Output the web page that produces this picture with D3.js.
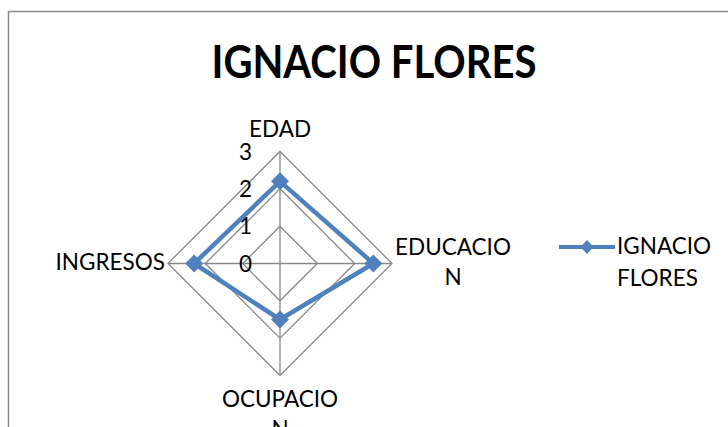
<!DOCTYPE html>
<meta charset="utf-8">
<head>
    <title>IGNACIO FLORES radar</title>
    <script src="https://cdn.jsdelivr.net/npm/d3@7"></script>
</head>

<style>
body { margin: 0; background: #fff; }
svg { display: block; font-family: Lato, "Open Sans", sans-serif; }
</style>

<body>

<svg></svg>

<script>

// data
let categories = ["EDAD", "EDUCACION", "OCUPACION", "INGRESOS"];
let labelLines = [["EDAD"], ["EDUCACIO", "N"], ["OCUPACIO", "N"], ["INGRESOS"]];
let values = [2.2, 2.5, 1.5, 2.3];
let ticks = [0, 1, 2, 3];
let seriesName = ["IGNACIO", "FLORES"];
let title = "IGNACIO FLORES";

let width = 728, height = 427;
let cx = 280, cy = 263.5, R = 112;
let blue = "#4F81BD";
let fs = 22.5;

let svg = d3.select("svg")
    .attr("width", width)
    .attr("height", height);

// chart area border (runs off right and bottom)
svg.append("path")
    .attr("d", "M8.5," + (height + 5) + "V11.5H" + (width + 5))
    .attr("fill", "none")
    .attr("stroke", "#8a8a8a")
    .attr("stroke-width", 1.5);

svg.append("text")
    .attr("x", 374)
    .attr("y", 78)
    .attr("text-anchor", "middle")
    .attr("font-weight", "bold")
    .attr("font-size", 45)
    .attr("textLength", 325)
    .attr("lengthAdjust", "spacingAndGlyphs")
    .attr("fill", "#000")
    .text(title);

// scales
let r = d3.scaleLinear().domain([0, 3]).range([0, R]);
let angle = d3.scaleBand().domain(categories).range([0, 2 * Math.PI]);

function pt(cat, v) {
  let a = angle(cat);
  return [cx + r(v) * Math.sin(a), cy - r(v) * Math.cos(a)];
}

let g = svg.append("g");

// rings
ticks.filter(t => t > 0).forEach(t => {
  g.append("path")
    .attr("d", d3.line()(categories.map(c => pt(c, t))) + "Z")
    .attr("fill", "none")
    .attr("stroke", "#888")
    .attr("stroke-width", 1.3);
});

// spokes
categories.forEach(c => {
  let p = pt(c, 3);
  g.append("line")
    .attr("x1", cx).attr("y1", cy)
    .attr("x2", p[0]).attr("y2", p[1])
    .attr("stroke", "#888")
    .attr("stroke-width", 1.3);
});

// tick labels
g.selectAll(".tick")
  .data(ticks)
  .enter()
  .append("text")
  .attr("x", cx - 28)
  .attr("y", d => cy - r(d) + 8)
  .attr("text-anchor", "end")
  .attr("font-size", fs)
  .text(d => d);

// category labels
let labelPos = [
  {dx: 0, dy: -14.5, anchor: "middle"},
  {dx: 61, dy: -8.5, anchor: "middle"},
  {dx: 0, dy: 31.5, anchor: "middle"},
  {dx: -3, dy: 6.5, anchor: "end"}
];
categories.forEach((c, i) => {
  let p = pt(c, 3);
  let t = g.append("text")
    .attr("text-anchor", labelPos[i].anchor)
    .attr("font-size", fs);
  labelLines[i].forEach((s, j) => {
    t.append("tspan")
      .attr("x", p[0] + labelPos[i].dx)
      .attr("y", p[1] + labelPos[i].dy + j * 30)
      .text(s);
  });
});

// series
let pts = categories.map((c, i) => pt(c, values[i]));
g.append("path")
  .attr("d", d3.line()(pts) + "Z")
  .attr("fill", "none")
  .attr("stroke", blue)
  .attr("stroke-width", 4.5)
  .attr("stroke-linejoin", "round");

g.selectAll(".marker")
  .data(pts)
  .enter()
  .append("path")
  .attr("d", d => "M" + d[0] + "," + (d[1] - 9) + "l9,9l-9,9l-9,-9Z")
  .attr("fill", blue);

// legend
let lg = svg.append("g");
lg.append("line")
  .attr("x1", 559).attr("x2", 615)
  .attr("y1", 247).attr("y2", 247)
  .attr("stroke", blue)
  .attr("stroke-width", 4);
lg.append("path")
  .attr("d", "M587,240l6.5,7l-6.5,7l-6.5,-7Z")
  .attr("fill", blue);
let lt = lg.append("text").attr("font-size", fs);
seriesName.forEach((s, j) => {
  lt.append("tspan")
    .attr("x", 617)
    .attr("y", 254 + j * 32)
    .text(s);
});

</script>

</body>
